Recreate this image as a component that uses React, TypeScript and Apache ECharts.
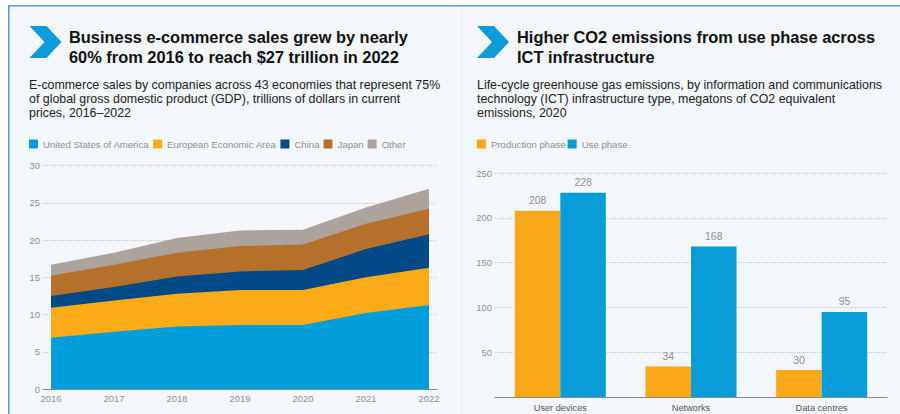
import React, { useEffect, useRef } from 'react';
import * as echarts from 'echarts';

// ---------- Data ----------
const years = [2016, 2017, 2018, 2019, 2020, 2021, 2022];
const usa = [6.9, 7.7, 8.4, 8.6, 8.6, 10.2, 11.3];
const eea = [4.0, 4.2, 4.4, 4.7, 4.7, 4.8, 5.0];
const china = [1.6, 1.8, 2.3, 2.5, 2.7, 3.8, 4.5];
const japan = [2.7, 3.0, 3.2, 3.4, 3.4, 3.4, 3.4];
const other = [1.5, 1.6, 2.0, 2.1, 2.0, 2.2, 2.7];
const areaNames = ['United States of America', 'European Economic Area', 'China', 'Japan', 'Other'];

const ictCategories = ['User devices', 'Networks', 'Data centres'];
const productionPhase = [208, 34, 30];
const usePhase = [228, 168, 95];
const barNames = ['Production phase', 'Use phase'];

const leftTitle = ['Business e-commerce sales grew by nearly', '60% from 2016 to reach $27 trillion in 2022'];
const leftSubtitle = [
  'E-commerce sales by companies across 43 economies that represent 75%',
  'of global gross domestic product (GDP), trillions of dollars in current',
  'prices, 2016\u20132022',
];
const rightTitle = ['Higher CO2 emissions from use phase across', 'ICT infrastructure'];
const rightSubtitle = [
  'Life-cycle greenhouse gas emissions, by information and communications',
  'technology (ICT) infrastructure type, megatons of CO2 equivalent',
  'emissions, 2020',
];

// ---------- Styles ----------
const SANS = '"Liberation Sans", Arial, sans-serif';
const areaColors = ['#009edb', '#fbab18', '#004987', '#b5712c', '#aba39c'];
const barColors = ['#f9a81a', '#0a9bd9'];
const GRAY = '#8f8f8f';

function textLines(lines: string[], x: number, y0: number, lh: number, size: number, weight: string, color: string) {
  return lines.map((t, i) => ({
    type: 'text',
    x,
    y: y0 + i * lh,
    style: { text: t, fontSize: size, fontWeight: weight, fontFamily: SANS, fill: color, verticalAlign: 'middle', align: 'left' },
    silent: true,
  }));
}

function chevron(x0: number, y0: number) {
  return {
    type: 'polygon',
    shape: {
      points: [
        [x0, y0],
        [x0 + 17, y0],
        [x0 + 32, y0 + 16],
        [x0 + 17, y0 + 32],
        [x0, y0 + 32],
        [x0 + 15, y0 + 16],
      ],
    },
    style: { fill: '#0f9ad8' },
    silent: true,
  };
}

export default function App() {
  const ref = useRef<HTMLDivElement>(null);

  useEffect(() => {
    if (!ref.current) return;
    const chart = echarts.init(ref.current, undefined, { renderer: 'svg' });
    const areaData = [usa, eea, china, japan, other];
    // cumulative tops of each band (stacked from the bottom band upward)
    const tops = areaData.map((_, k) =>
      years.map((_, i) => {
        let s = 0;
        for (let j = 0; j <= k; j++) s += areaData[j][i];
        return Math.round(s * 100) / 100;
      })
    );

    const legendText = { color: GRAY, fontSize: 9.6, fontFamily: SANS };

    const option: any = {
      animation: false,
      backgroundColor: '#f3f6fa',
      graphic: [
        { type: 'rect', shape: { x: 0, y: 0, width: 8, height: 414 }, style: { fill: '#ffffff' }, silent: true },
        { type: 'rect', shape: { x: 0, y: 0, width: 900, height: 5 }, style: { fill: '#ffffff' }, silent: true },
        { type: 'rect', shape: { x: 8, y: 5, width: 892, height: 1.6 }, style: { fill: '#5a9be0' }, silent: true },
        { type: 'rect', shape: { x: 8, y: 5, width: 1.6, height: 409 }, style: { fill: '#5a9be0' }, silent: true },
        { type: 'rect', shape: { x: 457, y: 7, width: 2, height: 407 }, style: { fill: '#fcfdfe' }, silent: true },
        chevron(29.5, 26),
        chevron(477, 26),
        ...textLines(leftTitle, 69, 36.5, 20, 16.4, 'bold', '#111111'),
        ...textLines(rightTitle, 517, 36.5, 20, 16.4, 'bold', '#111111'),
        ...textLines(leftSubtitle, 29, 85, 14, 12.4, 'normal', '#222222'),
        ...textLines(rightSubtitle, 477, 85, 14, 12.4, 'normal', '#222222'),
      ],
      legend: [
        {
          data: areaNames,
          left: 29,
          top: 139,
          padding: 0,
          itemWidth: 9,
          itemHeight: 9,
          itemGap: 4,
          icon: 'rect',
          textStyle: legendText,
        },
        {
          data: barNames,
          left: 477,
          top: 139,
          padding: 0,
          itemWidth: 9,
          itemHeight: 9,
          itemGap: 2,
          icon: 'rect',
          textStyle: legendText,
        },
      ],
      grid: [
        { left: 43, right: 463, top: 165.7, bottom: 25, containLabel: false },
        { left: 495, right: 13, top: 173, bottom: 17, containLabel: false },
      ],
      xAxis: [
        {
          gridIndex: 0,
          type: 'value',
          min: 2015.873,
          max: 2022.127,
          axisLine: { lineStyle: { color: '#8a8a8a', width: 1 } },
          axisTick: { show: false },
          splitLine: { show: false },
          axisLabel: {
            customValues: years,
            formatter: (v: number) => String(Math.round(v)),
            color: GRAY,
            fontSize: 9.4,
            fontFamily: SANS,
            margin: 5,
          },
        },
        {
          gridIndex: 1,
          type: 'category',
          data: ictCategories,
          axisLine: { lineStyle: { color: '#8a8a8a', width: 1 } },
          axisTick: { show: false },
          axisLabel: { color: '#555555', fontSize: 9.2, fontFamily: SANS, margin: 6 },
        },
      ],
      yAxis: [
        {
          gridIndex: 0,
          type: 'value',
          min: 0,
          max: 30,
          interval: 5,
          axisLine: { show: false },
          axisTick: { show: false },
          splitLine: { lineStyle: { color: '#c9c9c9', type: 'dotted', width: 1 } },
          axisLabel: { color: GRAY, fontSize: 9.4, fontFamily: SANS, margin: 3 },
        },
        {
          gridIndex: 1,
          type: 'value',
          min: 0,
          max: 250,
          interval: 50,
          axisLine: { show: false },
          axisTick: { show: false },
          splitLine: { lineStyle: { color: '#c9c9c9', type: 'dotted', width: 1 } },
          axisLabel: {
            color: GRAY,
            fontSize: 9.4,
            fontFamily: SANS,
            margin: 3,
            formatter: (v: number) => (v === 0 ? '' : String(v)),
          },
        },
      ],
      series: [
        // draw from the top band down so each lower band covers the one above it
        ...areaNames
          .map((name, k) => ({
            name,
            type: 'line',
            xAxisIndex: 0,
            yAxisIndex: 0,
            symbol: 'none',
            data: years.map((y, i) => [y, tops[k][i]]),
            lineStyle: { width: 0 },
            itemStyle: { color: areaColors[k] },
            areaStyle: { color: areaColors[k], opacity: 1, origin: 'start' },
          }))
          .reverse(),
        ...[productionPhase, usePhase].map((vals, k) => ({
          name: barNames[k],
          type: 'bar',
          xAxisIndex: 1,
          yAxisIndex: 1,
          data: vals,
          barWidth: 45.5,
          barGap: '0%',
          itemStyle: { color: barColors[k] },
          label: {
            show: true,
            position: 'top',
            distance: 5,
            color: GRAY,
            fontSize: 10.4,
            fontFamily: SANS,
          },
        })),
      ],
    };

    chart.setOption(option);
    return () => chart.dispose();
  }, []);

  return (
    <div
      ref={ref}
      style={{ position: 'absolute', left: 0, top: 0, width: 900, height: 414 }}
    />
  );
}
